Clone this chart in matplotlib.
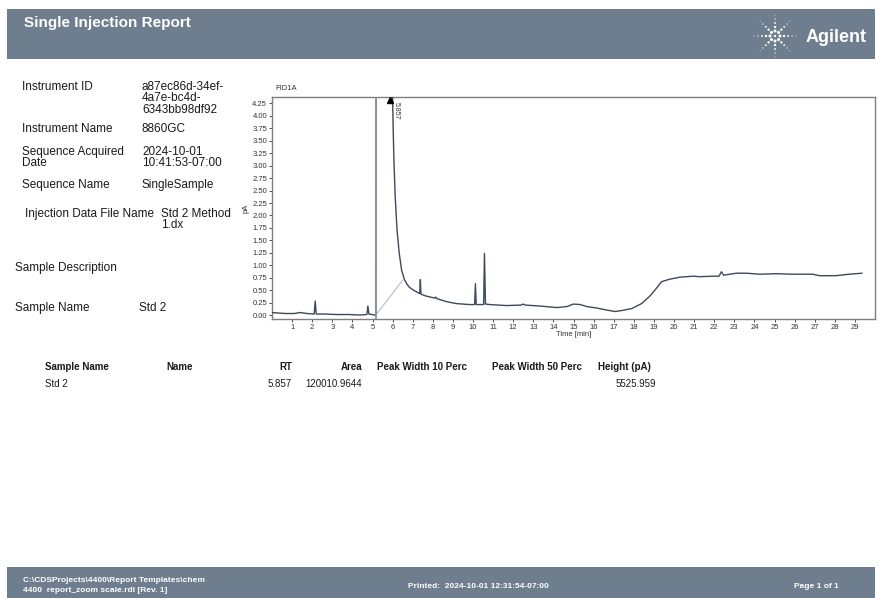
import matplotlib
matplotlib.use("Agg")
import matplotlib.pyplot as plt
from matplotlib.patches import Rectangle, Circle
from matplotlib.ticker import FormatStrFormatter
import numpy as np

plt.rcParams['font.family'] = ['Liberation Sans', 'DejaVu Sans']

# chromatogram trace (time in min, signal in pA)
time_min = [0.00, 0.30, 0.70, 1.10, 1.40, 1.75, 2.10, 2.15, 2.20, 2.60,
            3.20, 3.80, 4.40, 4.72, 4.77, 4.82, 5.10, 5.17, 5.18, 5.97,
            6.00, 6.03, 6.07, 6.13, 6.22, 6.33, 6.45, 6.58, 6.70, 6.83,
            7.00, 7.17, 7.35, 7.38, 7.41, 7.67, 8.10, 8.15, 8.20, 8.67,
            9.17, 9.83, 10.08, 10.12, 10.16, 10.53, 10.57, 10.62, 10.83, 11.67,
            12.40, 12.50, 12.60, 13.33, 14.17, 14.67, 15.00, 15.33, 15.66, 16.16,
            16.65, 17.07, 17.40, 17.90, 18.39, 18.80, 19.13, 19.38, 19.79, 20.29,
            20.95, 21.28, 21.94, 22.24, 22.36, 22.47, 23.10, 23.60, 24.26, 25.08,
            25.90, 26.90, 27.23, 28.06, 28.72, 29.35]
signal_pa = [0.05, 0.04, 0.03, 0.03, 0.05, 0.03, 0.02, 0.28, 0.02, 0.02,
             0.01, 0.01, 0.00, 0.01, 0.18, 0.02, 0.00, -0.01, 6.00, 6.00,
             4.35, 3.71, 3.05, 2.38, 1.71, 1.24, 0.90, 0.72, 0.63, 0.56,
             0.51, 0.47, 0.43, 0.71, 0.42, 0.38, 0.34, 0.36, 0.33, 0.27,
             0.23, 0.21, 0.21, 0.63, 0.21, 0.21, 1.24, 0.22, 0.21, 0.19,
             0.20, 0.22, 0.20, 0.18, 0.15, 0.17, 0.22, 0.21, 0.17, 0.14,
             0.10, 0.07, 0.09, 0.13, 0.23, 0.38, 0.54, 0.67, 0.72, 0.76,
             0.78, 0.77, 0.78, 0.78, 0.87, 0.80, 0.84, 0.84, 0.82, 0.83,
             0.82, 0.82, 0.79, 0.79, 0.82, 0.84]

baseline_t = [5.17, 6.50]
baseline_pa = [0.00, 0.70]
event_t = 5.17

peak_rt = "5.857"
peak_area = "120010.9644"
peak_height = "5525.959"

table_headers = ["Sample Name", "Name", "RT", "Area", "Peak Width 10 Perc",
                 "Peak Width 50 Perc", "Height (pA)"]
table_row = ["Std 2", "", peak_rt, peak_area, "", "", peak_height]

BAND = '#6e7e8e'
TXT = '#1a1a1a'

fig = plt.figure(figsize=(8.8, 5.98), dpi=100)

# page layer in pixel coordinates
page = fig.add_axes([0, 0, 1, 1])
page.set_xlim(0, 880)
page.set_ylim(598, 0)
page.axis('off')

# header band
page.add_patch(Rectangle((7, 9), 868, 50, color=BAND, lw=0))
page.text(24, 23, 'Single Injection Report', color='white', fontsize=11,
          fontweight='bold', va='center')
page.text(806, 37, 'Agilent', color='white', fontsize=13, fontweight='bold',
          va='center')
# spark logo
page.add_patch(Circle((775, 36), 1.2, color='white', lw=0))
for ang in np.deg2rad(np.arange(0, 360, 45)):
    for r, d in zip([5, 9, 13, 17, 21], [3.0, 2.4, 1.8, 1.3, 0.9]):
        page.add_patch(Circle((775 + r * np.cos(ang), 36 - r * np.sin(ang)),
                              d / 2, color='white', lw=0))

# instrument info
fs = 8.5
page.text(22, 87, 'Instrument ID', fontsize=fs, color=TXT, va='center')
for i, s in enumerate(['a87ec86d-34ef-', '4a7e-bc4d-', '6343bb98df92']):
    page.text(142, 87 + 11.3 * i, s, fontsize=fs, color=TXT, va='center')
page.text(22, 129, 'Instrument Name', fontsize=fs, color=TXT, va='center')
page.text(142, 129, '8860GC', fontsize=fs, color=TXT, va='center')
page.text(22, 152, 'Sequence Acquired', fontsize=fs, color=TXT, va='center')
page.text(22, 163.5, 'Date', fontsize=fs, color=TXT, va='center')
page.text(142, 152, '2024-10-01', fontsize=fs, color=TXT, va='center')
page.text(142, 163.5, '10:41:53-07:00', fontsize=fs, color=TXT, va='center')
page.text(22, 185, 'Sequence Name', fontsize=fs, color=TXT, va='center')
page.text(142, 185, 'SingleSample', fontsize=fs, color=TXT, va='center')
page.text(25, 214, 'Injection Data File Name', fontsize=fs, color=TXT, va='center')
page.text(161, 214, 'Std 2 Method', fontsize=fs, color=TXT, va='center')
page.text(161, 225.5, '1.dx', fontsize=fs, color=TXT, va='center')
page.text(15, 268, 'Sample Description', fontsize=fs, color=TXT, va='center')
page.text(15, 308, 'Sample Name', fontsize=fs, color=TXT, va='center')
page.text(139, 308, 'Std 2', fontsize=fs, color=TXT, va='center')

# results table
col_x = [45, 166, 292, 362, 377, 492, 656]
col_ha = ['left', 'left', 'right', 'right', 'left', 'left', 'right']
for x, ha, h, v in zip(col_x, col_ha, table_headers, table_row):
    hx = 598 if h.startswith('Height') else x
    hha = 'left' if h.startswith('Height') else ha
    page.text(hx, 367, h, fontsize=7, fontweight='bold', color=TXT, ha=hha, va='center')
    page.text(x, 384, v, fontsize=7, color=TXT, ha=ha, va='center')

# footer band
page.add_patch(Rectangle((7, 567), 868, 31, color=BAND, lw=0))
page.text(23, 580, 'C:\\CDSProjects\\4400\\Report Templates\\chem', fontsize=6,
          fontweight='bold', color='white', va='center')
page.text(23, 590, '4400  report_zoom scale.rdl [Rev. 1]', fontsize=6,
          fontweight='bold', color='white', va='center')
page.text(478, 586, 'Printed:  2024-10-01 12:31:54-07:00', fontsize=6,
          fontweight='bold', color='white', ha='center', va='center')
page.text(839, 586, 'Page 1 of 1', fontsize=6, fontweight='bold', color='white',
          ha='right', va='center')

# chromatogram
ax = fig.add_axes([272 / 880, 1 - 319 / 598, 603 / 880, 222 / 598])
ax.plot(time_min, signal_pa, color='#3b4a5c', lw=1.0, zorder=3)
ax.plot(baseline_t, baseline_pa, color='#b4b4b4', lw=0.7, zorder=2)
ax.axvline(event_t, color='#8c96a0', lw=1.3, zorder=4)
ax.set_xlim(0, 30)
ax.set_ylim(-0.08, 4.38)
ax.set_xticks(range(1, 30))
ax.set_yticks(np.arange(0, 4.26, 0.25))
ax.yaxis.set_major_formatter(FormatStrFormatter('%.2f'))
ax.tick_params(labelsize=5.5, length=2.5, width=0.6, pad=1, colors='#333333')
for sp in ax.spines.values():
    sp.set_color('#7f7f7f')
    sp.set_linewidth(1.0)
ax.set_xlabel('Time [min]', fontsize=5.5, labelpad=0, color='#333333')
ax.set_ylabel('pA', fontsize=5.5, labelpad=2, color='#333333')
ax.text(0.006, 1.04, 'FID1A', transform=ax.transAxes, fontsize=5.5,
        color='#333333', va='center')

# peak apex marker and label
ax.plot(float(peak_rt), 4.31, marker='^', color='black', ms=5, zorder=5)
ax.text(float(peak_rt) + 0.3, 4.28, peak_rt, rotation=-90, fontsize=5,
        color='#333333', ha='center', va='top')

fig.savefig('out.png', dpi=100)
